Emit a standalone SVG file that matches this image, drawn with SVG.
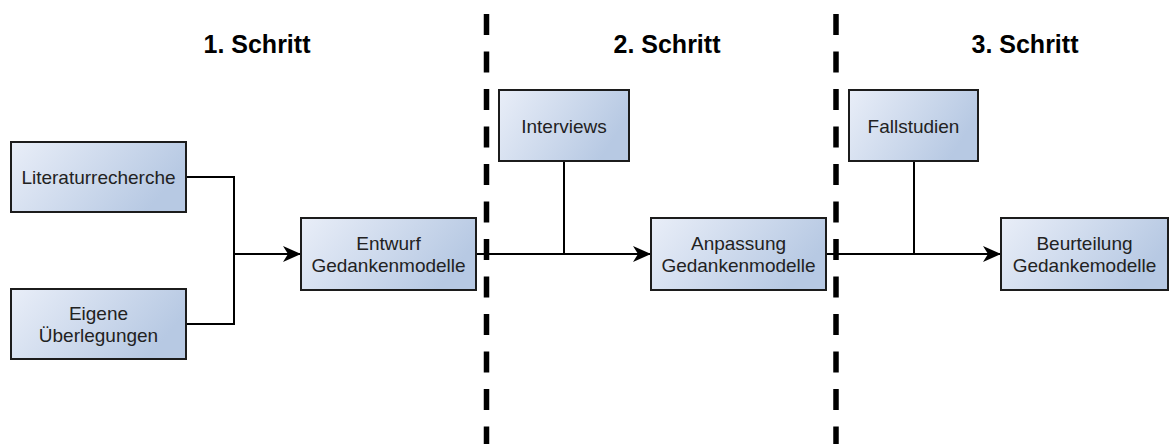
<svg xmlns="http://www.w3.org/2000/svg" width="1170" height="444" viewBox="0 0 1170 444">
  <defs>
    <linearGradient id="boxFill" x1="0" y1="0" x2="1" y2="0.35">
      <stop offset="0" stop-color="#e9eef8"/>
      <stop offset="1" stop-color="#b7c9e3"/>
    </linearGradient>
    <marker id="arrow" markerWidth="18" markerHeight="16" refX="18" refY="8" orient="auto" markerUnits="userSpaceOnUse">
      <path d="M0,0 L18,8 L0,16 L5,8 Z" fill="#000"/>
    </marker>
    <style>
      .box { fill: url(#boxFill); stroke: #1c1c1c; stroke-width: 2; }
      .lbl { font-family: "Liberation Sans", Arial, sans-serif; font-size: 19px; fill: #222; text-anchor: middle; }
      .title { font-family: "Liberation Sans", Arial, sans-serif; font-size: 25px; font-weight: bold; fill: #000; text-anchor: middle; }
      .conn { fill: none; stroke: #000; stroke-width: 2; }
      .sep { stroke: #000; stroke-width: 5.5; stroke-dasharray: 21 16.5; }
    </style>
  </defs>

  <rect width="1170" height="444" fill="#fff"/>

  <!-- phase titles -->
  <g id="titles">
    <text class="title" x="257" y="53">1. Schritt</text>
    <text class="title" x="667" y="53">2. Schritt</text>
    <text class="title" x="1025" y="53">3. Schritt</text>
  </g>

  <!-- connectors -->
  <g id="connectors">
    <path class="conn" d="M186,177 H234 V324 H186"/>
    <path class="conn" d="M234,254 H301" marker-end="url(#arrow)"/>
    <path class="conn" d="M476,254 H651" marker-end="url(#arrow)"/>
    <path class="conn" d="M564,161 V254"/>
    <path class="conn" d="M826,254 H1001" marker-end="url(#arrow)"/>
    <path class="conn" d="M914,161 V254"/>
  </g>

  <!-- phase separators -->
  <g id="separators">
    <line class="sep" x1="486.5" y1="14" x2="486.5" y2="444"/>
    <line class="sep" x1="836" y1="14" x2="836" y2="444"/>
  </g>

  <g id="literaturrecherche">
    <rect class="box" x="11" y="142" width="175" height="70"/>
    <text class="lbl" x="98.5" y="184">Literaturrecherche</text>
  </g>

  <g id="eigene-ueberlegungen">
    <rect class="box" x="11" y="289" width="175" height="70"/>
    <text class="lbl" x="98.5" y="320">Eigene</text>
    <text class="lbl" x="98.5" y="342">Überlegungen</text>
  </g>

  <g id="entwurf">
    <rect class="box" x="301" y="218" width="175" height="72"/>
    <text class="lbl" x="388.5" y="250">Entwurf</text>
    <text class="lbl" x="388.5" y="272">Gedankenmodelle</text>
  </g>

  <g id="interviews">
    <rect class="box" x="499" y="90" width="130" height="71"/>
    <text class="lbl" x="564" y="133">Interviews</text>
  </g>

  <g id="anpassung">
    <rect class="box" x="651" y="218" width="175" height="72"/>
    <text class="lbl" x="738.5" y="250">Anpassung</text>
    <text class="lbl" x="738.5" y="272">Gedankenmodelle</text>
  </g>

  <g id="fallstudien">
    <rect class="box" x="849" y="90" width="129" height="71"/>
    <text class="lbl" x="913.5" y="133">Fallstudien</text>
  </g>

  <g id="beurteilung">
    <rect class="box" x="1001" y="218" width="167" height="72"/>
    <text class="lbl" x="1084.5" y="250">Beurteilung</text>
    <text class="lbl" x="1084.5" y="272">Gedankemodelle</text>
  </g>
</svg>
